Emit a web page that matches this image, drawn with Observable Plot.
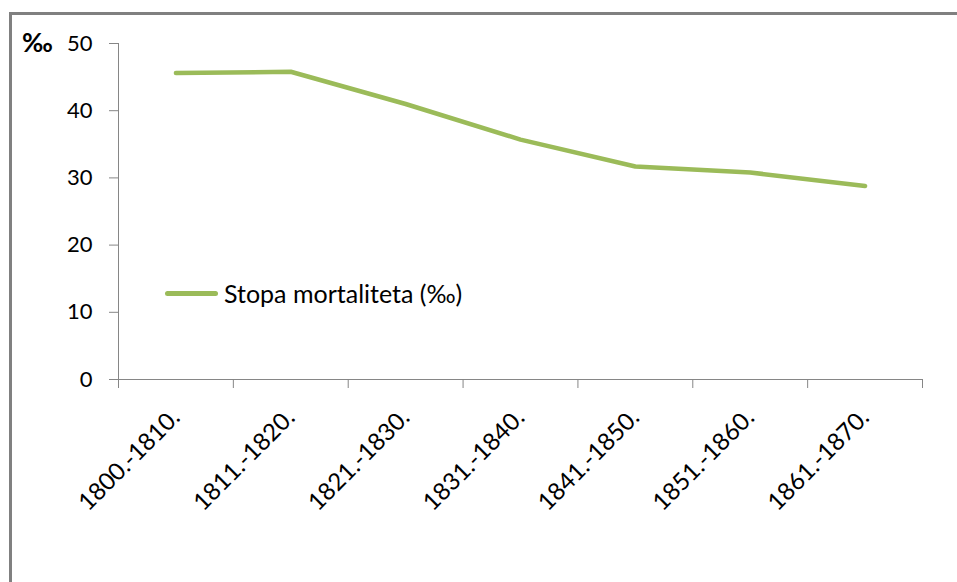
<!DOCTYPE html>
<html><head><meta charset="utf-8">
<script src="https://cdn.jsdelivr.net/npm/d3@7"></script>
<script src="https://cdn.jsdelivr.net/npm/@observablehq/plot@0.6"></script>
<style>
html,body{margin:0;padding:0;background:#fff;}
#wrap{position:relative;width:957px;height:582px;overflow:hidden;font-family:Lato,sans-serif;}
#frame{position:absolute;left:9px;top:12px;width:1000px;height:1000px;border-left:3px solid #808080;border-top:3px solid #808080;box-sizing:border-box;}
#chart{position:absolute;left:0;top:0;}
#unit{position:absolute;left:22px;top:29px;font-size:26px;font-weight:bold;line-height:1;}
#legend{position:absolute;left:165px;top:281px;display:flex;align-items:center;font-size:25px;line-height:1;}
#legend .sw{width:53px;height:5px;background:#9BBB59;border-radius:3px;margin-right:6px;}
</style>
</head><body>
<div id="wrap"><div id="frame"></div><div id="chart"></div><div id="unit">‰</div>
<div id="legend"><div class="sw"></div><span>Stopa mortaliteta (‰)</span></div></div>
<script>
const categories = ["1800.-1810.", "1811.-1820.", "1821.-1830.", "1831.-1840.", "1841.-1850.", "1851.-1860.", "1861.-1870."];
const mortality = [45.6, 45.8, 41.0, 35.7, 31.7, 30.8, 28.8];
const yTicks = [0, 10, 20, 30, 40, 50];
const data = categories.map((c, i) => ({i, c, v: mortality[i]}));
const chart = Plot.plot({
  width: 957, height: 582,
  marginLeft: 118, marginRight: 35, marginTop: 43, marginBottom: 203,
  style: {fontFamily: "Lato, sans-serif", fontSize: "22px", color: "#000", background: "transparent", overflow: "visible"},
  x: {type: "linear", domain: [0, categories.length]},
  y: {domain: [0, 50]},
  marks: [
    Plot.ruleY([0], {stroke: "#868686"}),
    Plot.ruleX([0], {stroke: "#868686"}),
    Plot.axisY({ticks: yTicks, tickSize: 9, tickPadding: 17, stroke: "#868686", fontSize: 22, label: null}),
    Plot.axisX({ticks: d3.range(categories.length + 1), tickSize: 9, tickFormat: () => "", stroke: "#868686", label: null}),
    Plot.axisX({ticks: d3.range(categories.length).map(i => i + 0.5), tickSize: 0, tickPadding: 34, tickRotate: -45,
      tickFormat: t => categories[Math.floor(t)], fontSize: 24, label: null}),
    Plot.line(data, {x: d => d.i + 0.5, y: "v", stroke: "#9BBB59", strokeWidth: 4.5, strokeLinecap: "round", strokeLinejoin: "round"})
  ]
});
document.getElementById("chart").appendChild(chart);
</script>
</body></html>
